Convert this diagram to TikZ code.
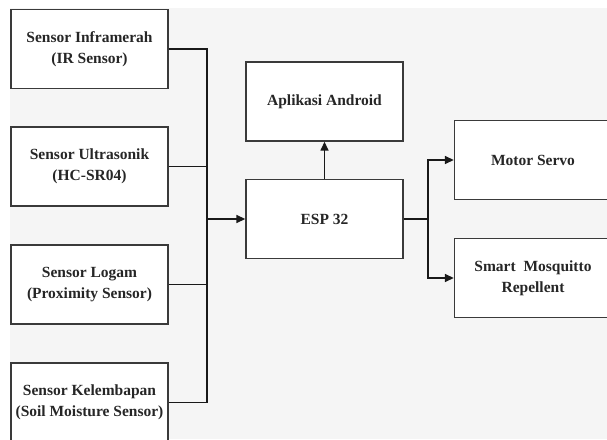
\documentclass[tikz,border=0pt]{standalone}
\usepackage{fontspec}
\setmainfont{Liberation Serif}
\usetikzlibrary{arrows.meta}
\definecolor{bggray}{HTML}{F5F5F5}
\definecolor{edge}{HTML}{3A3A3A}
\tikzset{
    block/.style={draw=edge, fill=white, line width=1.4pt, minimum width=157pt,
        minimum height=79pt, inner sep=0pt, align=center,
        font=\bfseries\fontsize{15.5}{21}\selectfont, text=black!85},
    wire/.style={line width=1.5pt, black!90},
    arr/.style={wire, -{Triangle[length=9pt, width=8pt]}}
}
\begin{document}
\begin{tikzpicture}[x=1pt, y=-1pt]
    % Page and background
    \useasboundingbox (0,0) rectangle (607,439);
    \clip (0,0) rectangle (607,439);
    \fill[bggray] (10,8) rectangle (607,439);
    % Sensors
    \node[block] (ir) at (89.5,49) {Sensor Inframerah\\(IR Sensor)};
    \node[block] (us) at (89.5,166.5) {Sensor Ultrasonik\\(HC-SR04)};
    \node[block] (lg) at (89.5,284.5) {Sensor Logam\\(Proximity Sensor)};
    \node[block] (kl) at (89.5,402.5) {Sensor Kelembapan\\(Soil Moisture Sensor)};
    % Controller and outputs
    \node[block] (app) at (324.5,101.5) {Aplikasi Android};
    \node[block] (esp) at (324.5,219) {ESP 32};
    \node[block] (servo) at (533,160) {Motor Servo};
    \node[block] (smart) at (533,278) {Smart\ \ Mosquitto\\Repellent};
    % Junctions
    \coordinate (jin) at (207,219);
    \coordinate (jout) at (428,219);
    % Connectors
    \draw[wire] (ir.east) -| (jin);
    \draw[wire] (us.east) -| (jin);
    \draw[wire] (lg.east) -| (jin);
    \draw[wire] (kl.east) -| (jin);
    \draw[arr] (jin) -- (esp.west);
    \draw[arr] (esp.north) -- (app.south);
    \draw[wire] (esp.east) -- (jout);
    \draw[arr] (jout) |- (servo.west);
    \draw[arr] (jout) |- (smart.west);
\end{tikzpicture}
\end{document}
